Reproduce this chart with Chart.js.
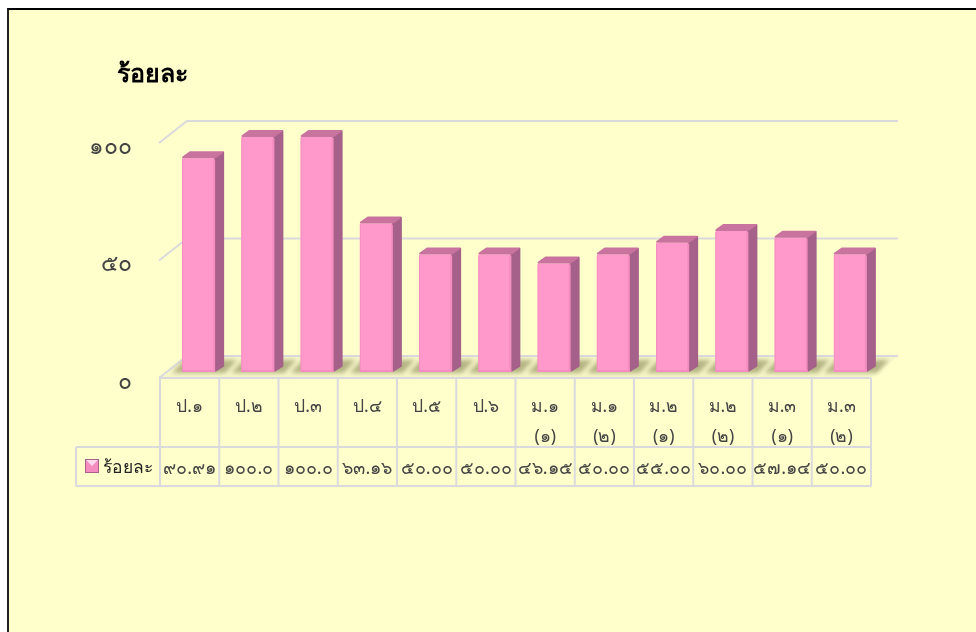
<!DOCTYPE html>
<html>
<head>
<meta charset="utf-8">
<script src="https://cdn.jsdelivr.net/npm/chart.js@4"></script>
<style>
html, body { margin: 0; padding: 0; background: #fff; overflow: hidden; }
#frame { position: absolute; left: 7px; top: 8px; width: 969px; height: 624px; box-sizing: border-box;
  border-left: 2px solid #222; border-top: 2px solid #000; background: #ffffcc; }
#wrap { position: absolute; left: 0; top: 0; width: 976px; height: 632px; }
</style>
</head>
<body>
<div id="frame"></div>
<div id="wrap"><canvas id="chart"></canvas></div>
<script>
var chartTitle = 'ร้อยละ';
var seriesName = 'ร้อยละ';
var categories = [['ป.๑'], ['ป.๒'], ['ป.๓'], ['ป.๔'], ['ป.๕'], ['ป.๖'],
  ['ม.๑', '(๑)'], ['ม.๑', '(๒)'], ['ม.๒', '(๑)'], ['ม.๒', '(๒)'], ['ม.๓', '(๑)'], ['ม.๓', '(๒)']];
var values = [90.91, 100, 100, 63.16, 50, 50, 46.15, 50, 55, 60, 57.14, 50];
var tableLabels = ['๙๐.๙๑', '๑๐๐.๐', '๑๐๐.๐', '๖๓.๑๖', '๕๐.๐๐', '๕๐.๐๐', '๔๖.๑๕', '๕๐.๐๐', '๕๕.๐๐', '๖๐.๐๐', '๕๗.๑๔', '๕๐.๐๐'];
var yTickValues = [0, 50, 100];
var yTickLabels = ['๐', '๕๐', '๑๐๐'];

var thaiFont = '"Noto Sans", "DejaVu Sans", sans-serif';
var gridColor = '#dadade';
var textColor = '#444';

// the bars stand a third of the way into the floor, these are that shift and the full depth
var barShiftX = 9, barShiftY = 6;
var depthX = 27, depthY = 22;

var box3d = {
  id: 'box3d',
  beforeDatasetsDraw: function(chart) {
    var ctx = chart.ctx, y = chart.scales.y, area = chart.chartArea;
    var left = area.left - barShiftX, right = area.right - barShiftX;
    var bottom = y.getPixelForValue(0) + barShiftY;
    ctx.save();
    // floor
    ctx.fillStyle = '#f6f6c8';
    ctx.beginPath();
    ctx.moveTo(left, bottom);
    ctx.lineTo(left + depthX, bottom - depthY);
    ctx.lineTo(right + depthX, bottom - depthY);
    ctx.lineTo(right, bottom);
    ctx.closePath();
    ctx.fill();
    // back wall lines
    ctx.strokeStyle = gridColor;
    ctx.lineWidth = 2;
    yTickValues.forEach(function(v) {
      var py = y.getPixelForValue(v) + barShiftY;
      ctx.beginPath();
      ctx.moveTo(left - 1, py);
      ctx.lineTo(left + depthX, py - depthY);
      ctx.lineTo(right + depthX, py - depthY);
      ctx.stroke();
    });
    // soft shadow on the floor behind each bar
    ctx.filter = 'blur(2px)';
    ctx.fillStyle = '#b4b484';
    chart.getDatasetMeta(0).data.forEach(function(bar) {
      var x0 = bar.x - bar.width / 2, x1 = bar.x + bar.width / 2;
      ctx.beginPath();
      ctx.moveTo(x0 - 10, bar.base + 1);
      ctx.lineTo(x1 + 10, bar.base + 1);
      ctx.lineTo(x1 + 22, bar.base - 12);
      ctx.lineTo(x0 + 2, bar.base - 12);
      ctx.closePath();
      ctx.fill();
    });
    ctx.filter = 'none';
    ctx.restore();
  },
  afterDatasetsDraw: function(chart) {
    var ctx = chart.ctx;
    var dx = 8, dy = 6;
    ctx.save();
    ctx.lineJoin = 'round';
    ctx.lineWidth = 2;
    chart.getDatasetMeta(0).data.forEach(function(bar) {
      var x0 = bar.x - bar.width / 2, x1 = bar.x + bar.width / 2;
      ctx.fillStyle = ctx.strokeStyle = '#a6618a';
      ctx.beginPath();
      ctx.moveTo(x1, bar.y);
      ctx.lineTo(x1 + dx, bar.y - dy);
      ctx.lineTo(x1 + dx, bar.base - dy);
      ctx.lineTo(x1, bar.base - 1);
      ctx.closePath();
      ctx.stroke();
      ctx.fill();
      ctx.fillStyle = ctx.strokeStyle = '#c9739f';
      ctx.beginPath();
      ctx.moveTo(x0 + 1, bar.y - 1);
      ctx.lineTo(x0 + dx, bar.y - dy);
      ctx.lineTo(x1 + dx - 1, bar.y - dy);
      ctx.lineTo(x1, bar.y - 1);
      ctx.closePath();
      ctx.stroke();
      ctx.fill();
      // bevel on the front face
      ctx.fillStyle = '#f48cc0';
      ctx.fillRect(x1 - 2, bar.y + 1, 2, bar.base - bar.y - 1);
      ctx.fillRect(x0, bar.base - 2, bar.width, 2);
      ctx.fillRect(x0, bar.y + 1, 1, bar.base - bar.y - 1);
    });
    ctx.restore();
  }
};

var dataTable = {
  id: 'dataTable',
  afterDraw: function(chart) {
    var ctx = chart.ctx;
    var n = categories.length;
    var left = chart.chartArea.left - barShiftX;
    var cell = (chart.chartArea.right - chart.chartArea.left) / n;
    var top = 378, mid = 447, bottom = 486, legendLeft = 76;
    ctx.save();
    ctx.strokeStyle = gridColor;
    ctx.lineWidth = 2;
    ctx.beginPath();
    for (var i = 0; i <= n; i++) {
      ctx.moveTo(left + i * cell, top);
      ctx.lineTo(left + i * cell, bottom);
    }
    ctx.moveTo(left, top);
    ctx.lineTo(left + n * cell, top);
    ctx.moveTo(legendLeft, mid);
    ctx.lineTo(left + n * cell, mid);
    ctx.moveTo(legendLeft, bottom);
    ctx.lineTo(left + n * cell, bottom);
    ctx.moveTo(legendLeft, mid);
    ctx.lineTo(legendLeft, bottom);
    ctx.stroke();

    ctx.fillStyle = textColor;
    ctx.textAlign = 'center';
    ctx.textBaseline = 'middle';
    ctx.font = '18px ' + thaiFont;
    tableLabels.forEach(function(label, i) {
      ctx.fillText(label, left + (i + 0.5) * cell, 469);
    });
    ctx.textAlign = 'left';
    ctx.font = '17.5px ' + thaiFont;
    ctx.fillStyle = '#222';
    ctx.fillText(seriesName, 103, 468);

    // legend key
    ctx.fillStyle = '#f48cc0';
    ctx.fillRect(85, 459, 14, 14);
    ctx.fillStyle = '#ffd6ea';
    ctx.beginPath();
    ctx.moveTo(86, 460);
    ctx.lineTo(98, 460);
    ctx.lineTo(92, 466);
    ctx.closePath();
    ctx.fill();
    ctx.strokeStyle = '#a6618a';
    ctx.lineWidth = 1;
    ctx.strokeRect(85.5, 459.5, 13, 13);

    // chart title
    ctx.fillStyle = '#000';
    ctx.font = 'bold 25px ' + thaiFont;
    ctx.fillText(chartTitle, 117, 75);
    ctx.restore();
  }
};

new Chart(document.getElementById('chart'), {
  type: 'bar',
  data: {
    labels: categories,
    datasets: [{
      label: seriesName,
      data: values,
      backgroundColor: '#ff99cc',
      borderWidth: 0,
      categoryPercentage: 1,
      barPercentage: 0.557
    }]
  },
  plugins: [box3d, dataTable],
  options: {
    responsive: true,
    maintainAspectRatio: false,
    animation: false,
    events: [],
    layout: { padding: { top: 137, right: 96, left: 0, bottom: 0 } },
    plugins: { legend: { display: false }, title: { display: false }, tooltip: { enabled: false } },
    scales: {
      x: {
        grid: { display: false },
        border: { display: false },
        afterFit: function(scale) { scale.height = 260; },
        ticks: {
          autoSkip: false,
          maxRotation: 0,
          padding: 12,
          labelOffset: -9,
          color: textColor,
          font: { family: thaiFont, size: 17.5, lineHeight: 1.72 }
        }
      },
      y: {
        min: 0,
        max: 100,
        afterFit: function(scale) { scale.width = 169; },
        grid: { display: false, drawTicks: false },
        border: { display: false },
        afterBuildTicks: function(scale) {
          scale.ticks = yTickValues.map(function(v) { return { value: v }; });
        },
        ticks: {
          padding: 37,
          labelOffset: 10,
          color: textColor,
          font: { family: thaiFont, size: 23 },
          callback: function(v) { return yTickLabels[yTickValues.indexOf(v)]; }
        }
      }
    }
  }
});
</script>
</body>
</html>
